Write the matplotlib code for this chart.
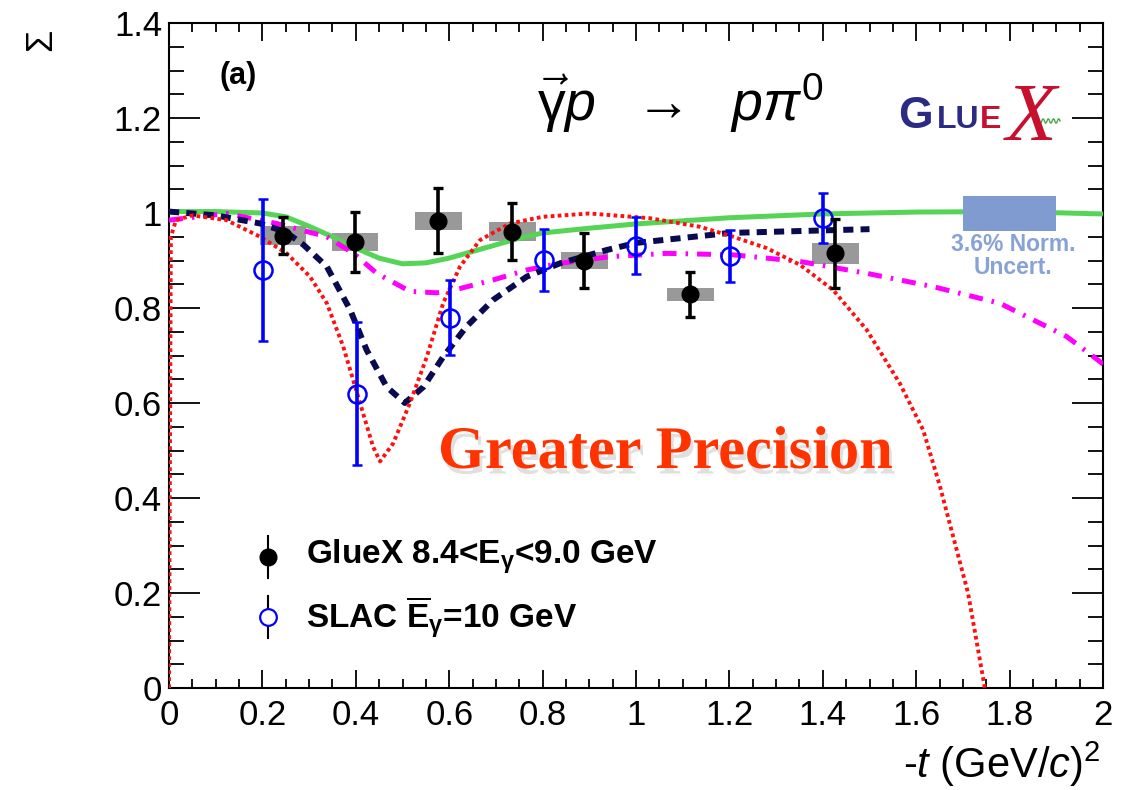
import matplotlib
matplotlib.use('Agg')
import matplotlib.pyplot as plt
import matplotlib.patheffects as pe
from matplotlib.patches import Rectangle
from matplotlib.lines import Line2D
from matplotlib.ticker import MultipleLocator
import numpy as np

plt.rcParams['font.family'] = ['Liberation Sans', 'DejaVu Sans']
plt.rcParams['mathtext.fontset'] = 'custom'
plt.rcParams['mathtext.rm'] = 'Liberation Sans'
plt.rcParams['mathtext.it'] = 'Liberation Sans:italic'
plt.rcParams['mathtext.bf'] = 'Liberation Sans:bold'

# ---------------- data ----------------
gluex_t = [0.244, 0.398, 0.577, 0.735, 0.889, 1.116, 1.427]
gluex_sigma = [0.952, 0.939, 0.984, 0.961, 0.900, 0.829, 0.915]
gluex_stat = [0.039, 0.064, 0.069, 0.060, 0.058, 0.047, 0.072]
gluex_syst = [0.020, 0.019, 0.019, 0.019, 0.017, 0.014, 0.022]

slac_t = [0.202, 0.402, 0.602, 0.802, 1.001, 1.201, 1.401]
slac_sigma = [0.880, 0.620, 0.780, 0.901, 0.931, 0.910, 0.990]
slac_err = [0.150, 0.150, 0.080, 0.065, 0.060, 0.055, 0.053]

green_t = [0.0, 0.1, 0.2, 0.25, 0.3, 0.35, 0.4, 0.45, 0.5, 0.55, 0.6, 0.65,
           0.7, 0.75, 0.8, 0.9, 1.0, 1.2, 1.4, 1.6, 1.8, 2.0]
green_y = [1.003, 1.003, 1.0, 0.992, 0.972, 0.95, 0.926, 0.905, 0.893, 0.895,
           0.905, 0.919, 0.933, 0.947, 0.958, 0.968, 0.977, 0.99, 0.998,
           1.002, 1.003, 0.998]

navy_t = [0.0, 0.1, 0.195, 0.25, 0.288, 0.338, 0.388, 0.423, 0.466, 0.505,
          0.545, 0.587, 0.637, 0.694, 0.766, 0.837, 0.937, 1.0, 1.2, 1.5]
navy_y = [1.003, 0.995, 0.978, 0.96, 0.933, 0.887, 0.796, 0.712, 0.634, 0.600,
          0.634, 0.697, 0.761, 0.817, 0.866, 0.894, 0.922, 0.937, 0.958, 0.966]

red_t = [0.0, 0.004, 0.015, 0.05, 0.123, 0.195, 0.252, 0.302, 0.338, 0.373,
         0.409, 0.437, 0.452, 0.48, 0.516, 0.552, 0.587, 0.623, 0.666, 0.73,
         0.8, 0.9, 1.03, 1.137, 1.208, 1.28, 1.351, 1.422, 1.494, 1.565,
         1.615, 1.651, 1.711, 1.747]
red_y = [0.0, 0.95, 0.985, 0.995, 0.985, 0.95, 0.915, 0.866, 0.81, 0.719,
         0.6, 0.508, 0.477, 0.515, 0.6, 0.697, 0.81, 0.887, 0.943, 0.978,
         0.992, 0.999, 0.989, 0.971, 0.95, 0.926, 0.891, 0.838, 0.754, 0.641,
         0.543, 0.424, 0.2, 0.0]

mag_t = [0.0, 0.123, 0.23, 0.338, 0.395, 0.445, 0.516, 0.573, 0.623, 0.694,
         0.766, 0.837, 0.944, 1.066, 1.208, 1.351, 1.494, 1.636, 1.779, 1.922,
         1.979, 2.0]
mag_y = [0.985, 0.999, 0.978, 0.95, 0.915, 0.873, 0.835, 0.832, 0.841, 0.859,
         0.88, 0.894, 0.908, 0.915, 0.912, 0.898, 0.873, 0.845, 0.81, 0.74,
         0.698, 0.682]

norm_box_t = [1.70, 1.90]
norm_box_y = [0.963, 1.036]

x_ticks = [0, 0.2, 0.4, 0.6, 0.8, 1, 1.2, 1.4, 1.6, 1.8, 2]
x_ticklabels = ['0', '0.2', '0.4', '0.6', '0.8', '1', '1.2', '1.4', '1.6', '1.8', '2']
y_ticks = [0, 0.2, 0.4, 0.6, 0.8, 1, 1.2, 1.4]
y_ticklabels = ['0', '0.2', '0.4', '0.6', '0.8', '1', '1.2', '1.4']

# ---------------- figure ----------------
W, H = 1129, 790
fig = plt.figure(figsize=(W / 100, H / 100), dpi=100)
ax = fig.add_axes([169 / W, 1 - 688 / H, (1103 - 169) / W, (688 - 23) / H])
ax.set_xlim(0, 2)
ax.set_ylim(0, 1.4)

for s in ax.spines.values():
    s.set_linewidth(1.5)

ax.set_xticks(x_ticks)
ax.set_xticklabels(x_ticklabels)
ax.set_yticks(y_ticks)
ax.set_yticklabels(y_ticklabels)
ax.xaxis.set_minor_locator(MultipleLocator(0.05))
ax.yaxis.set_minor_locator(MultipleLocator(0.05))
ax.tick_params(axis='both', which='both', direction='in', top=True, right=True,
               width=1.3, labelsize=25)
ax.tick_params(axis='x', which='major', length=13, pad=8)
ax.tick_params(axis='x', which='minor', length=6.5)
ax.tick_params(axis='y', which='major', length=22, pad=5)
ax.tick_params(axis='y', which='minor', length=11)

# systematic boxes
for t, s, e in zip(gluex_t, gluex_sigma, gluex_syst):
    ax.add_patch(Rectangle((t - 0.05, s - e), 0.1, 2 * e, facecolor='#999999',
                           edgecolor='none', zorder=2))

# model curves
ax.plot(green_t, green_y, color='#55d455', lw=3.6, zorder=3, solid_capstyle='butt')
ax.plot(mag_t, mag_y, color='#ff00ff', lw=3.6, ls=(0, (2.8, 1.8, 0.5, 1.8)), zorder=3)
ax.plot(navy_t, navy_y, color='#0a0a50', lw=4.3, ls=(0, (1.7, 1.2)), zorder=3)
ax.plot(red_t, red_y, color='#ff1010', lw=2.8, ls=(0, (0.95, 0.85)), zorder=3)

# data
ax.errorbar(slac_t, slac_sigma, yerr=slac_err, fmt='o', ms=13, mfc='none',
            mec='#0000ff', mew=1.8, ecolor='#0000ff', elinewidth=2.6,
            capsize=3.5, capthick=2.4, zorder=5)
ax.errorbar(gluex_t, gluex_sigma, yerr=gluex_stat, fmt='o', ms=12, color='black',
            elinewidth=2.6, capsize=3.5, capthick=2.4, zorder=6)

# normalisation uncertainty box
ax.add_patch(Rectangle((norm_box_t[0], norm_box_y[0]), norm_box_t[1] - norm_box_t[0],
                       norm_box_y[1] - norm_box_y[0], facecolor='#7f9bd0',
                       edgecolor='none', zorder=4))
ax.text(sum(norm_box_t) / 2 + 0.008, 0.910, '3.6% Norm.\nUncert.', ha='center',
        va='center', color='#86a2d6', fontsize=16.5, fontweight='bold',
        linespacing=1.0, zorder=4)

# legend (manual, ROOT-style)
lx = (268 - 169) / 934
ax.add_line(Line2D([lx, lx], [(688 - 578) / 665, (688 - 536) / 665],
                   transform=ax.transAxes, color='black', lw=1.5))
ax.add_line(Line2D([lx], [(688 - 557) / 665], transform=ax.transAxes,
                   marker='o', ms=12, color='black'))
ax.add_line(Line2D([lx, lx], [(688 - 638) / 665, (688 - 596) / 665],
                   transform=ax.transAxes, color='black', lw=1.5))
ax.add_line(Line2D([lx], [(688 - 617) / 665], transform=ax.transAxes,
                   marker='o', ms=12, mfc='white', mec='#0000ff', mew=1.6))
tx = (306 - 169) / 934
ax.text(tx, (688 - 557) / 665, r'GlueX 8.4<E$_{\mathbf{\gamma}}$<9.0 GeV',
        transform=ax.transAxes, fontsize=24, fontweight='bold', va='center')
ax.text(tx, (688 - 617) / 665, r'SLAC $\overline{\mathbf{E}}_{\mathbf{\gamma}}$=10 GeV',
        transform=ax.transAxes, fontsize=24, fontweight='bold', va='center')

# annotations
ax.text((238 - 169) / 934, (688 - 76) / 665, '(a)', transform=ax.transAxes,
        fontsize=22, fontweight='bold', ha='center', va='center')
ax.text((680 - 169) / 934, (688 - 103) / 665,
        r'$\vec{\mathrm{\gamma}}p\ \ \rightarrow\ \ p\pi^{0}$',
        transform=ax.transAxes, fontsize=40, ha='center', va='center')

gp = ax.text((438 - 169) / 934, (688 - 468) / 665, 'Greater Precision',
             transform=ax.transAxes, fontsize=43.5, fontweight='bold',
             family='Liberation Serif', color='#ff3300', va='baseline', ha='left',
             zorder=7)
gp.set_path_effects([pe.SimplePatchShadow(offset=(2, -4), shadow_rgbFace='#999999',
                                          alpha=0.3), pe.Normal()])

# GlueX logo
fig.text(898 / W, 1 - 128 / H, 'G', fontsize=32, fontweight='bold',
         color='#2b2a85', ha='left', va='baseline')
fig.text(937 / W, 1 - 128 / H, 'LU', fontsize=23, fontweight='bold',
         color='#2b2a85', ha='left', va='baseline')
fig.text(980 / W, 1 - 128 / H, 'E', fontsize=23, fontweight='bold',
         color='#c8102e', ha='left', va='baseline')
fig.text(1031 / W, 1 - 120 / H, 'X', fontsize=60, style='italic',
         family='Liberation Serif', color='#c8102e', ha='center', va='center')
wx = np.linspace(1034, 1060, 60)
wy = 121 + 2.2 * np.sin((wx - 1034) / 26 * 5 * 2 * np.pi)
fig.add_artist(Line2D(wx / W, 1 - wy / H, transform=fig.transFigure,
                      color='#4aa84a', lw=1.0))

# axis titles
fig.text(42 / W, 1 - 40 / H, 'Σ', rotation=90, fontsize=26, ha='center', va='center')
fig.text(1101 / W, 1 - 778 / H, r'-$t$ (GeV/$c$)$^{2}$', fontsize=30,
         ha='right', va='baseline')

fig.savefig('out.png', dpi=100)
